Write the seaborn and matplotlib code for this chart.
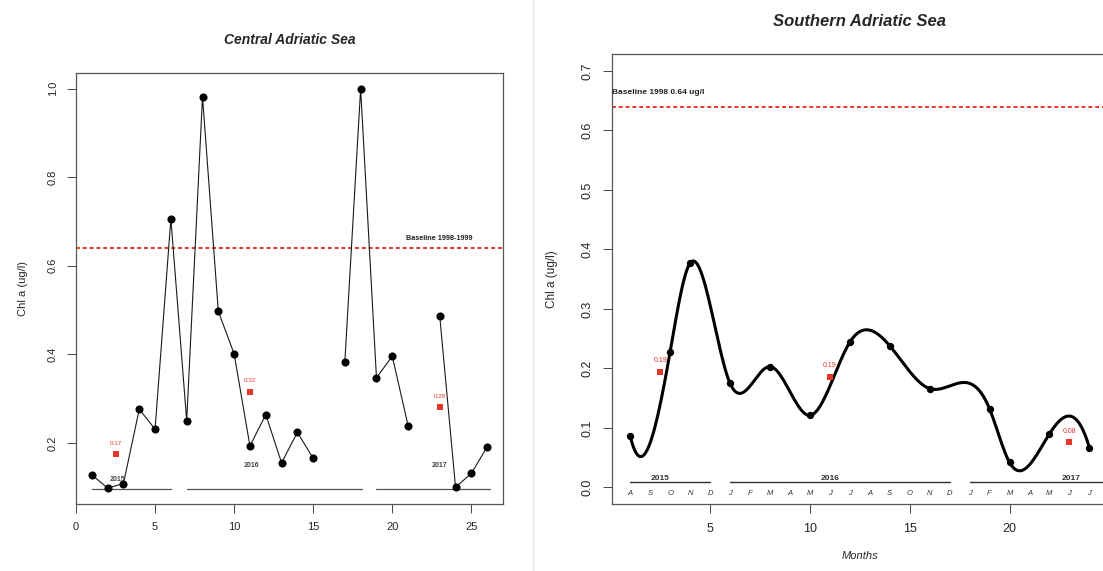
import numpy as np
import pandas as pd
import matplotlib
matplotlib.use('Agg')
import matplotlib.pyplot as plt
import seaborn as sns
from matplotlib.lines import Line2D

# ---- Central Adriatic Sea ----
central_month = [1, 2, 3, 4, 5, 6, 7, 8, 9, 10, 11, 12, 13, 14, 15,
                 17, 18, 19, 20, 21,
                 23, 24, 25, 26]
central_chl = [0.128, 0.098, 0.108, 0.276, 0.231, 0.706, 0.250, 0.982, 0.497, 0.401,
               0.193, 0.264, 0.155, 0.224, 0.165,
               0.383, 1.000, 0.347, 0.396, 0.239,
               0.487, 0.100, 0.131, 0.191]
central_run = [1] * 15 + [2] * 5 + [3] * 4
central_red_month = [2.5, 11, 23]
central_red_chl = [0.174, 0.315, 0.280]
central_red_text = ['0.17', '0.32', '0.28']
central_years = ['2015', '2016', '2017']
central_year_x = [2.6, 11.1, 23.0]
central_year_y = [0.117, 0.150, 0.148]
central_year_span = [(1, 6), (7, 18.1), (19, 26.2)]
central_baseline = 0.64
central_baseline_text = 'Baseline 1998-1999'

# ---- Southern Adriatic Sea ----
south_month = [1, 3, 4, 6, 8, 10, 12, 14, 16, 19, 20, 22, 24]
south_chl = [0.086, 0.228, 0.377, 0.175, 0.203, 0.121, 0.244, 0.238, 0.166,
             0.132, 0.042, 0.090, 0.067]
south_red_month = [2.5, 11, 23]
south_red_chl = [0.194, 0.186, 0.076]
south_red_text = ['0.19', '0.19', '0.08']
south_years = ['2015', '2016', '2017']
south_year_x = [2.5, 11.0, 23.1]
south_year_span = [(1, 5), (6, 17), (18, 24.9)]
month_letters = list('ASONDJFMAMJJASONDJFMAMJJ')
south_baseline = 0.64
south_baseline_text = 'Baseline 1998 0.64 ug/l'


def fmm_spline(x, y, n=200):
    # cubic spline with Forsythe-Malcolm-Moler end conditions (R's spline default)
    x = np.asarray(x, float)
    y = np.asarray(y, float)
    k = len(x)
    h = np.diff(x)
    d = np.diff(y) / h
    A = np.zeros((k, k))
    b = np.zeros(k)
    for i in range(1, k - 1):
        A[i, i - 1] = h[i - 1]
        A[i, i] = 2 * (h[i - 1] + h[i])
        A[i, i + 1] = h[i]
        b[i] = 6 * (d[i] - d[i - 1])

    def dd3(xx, yy):
        d1 = np.diff(yy) / np.diff(xx)
        d2 = np.diff(d1) / (xx[2:] - xx[:-2])
        return (d2[1] - d2[0]) / (xx[3] - xx[0])

    A[0, 0], A[0, 1] = -1, 1
    b[0] = 6 * h[0] * dd3(x[:4], y[:4])
    A[-1, -2], A[-1, -1] = -1, 1
    b[-1] = 6 * h[-1] * dd3(x[-4:], y[-4:])
    M = np.linalg.solve(A, b)
    xs = np.linspace(x[0], x[-1], n)
    idx = np.clip(np.searchsorted(x, xs) - 1, 0, k - 2)
    x0, x1 = x[idx], x[idx + 1]
    hh = x1 - x0
    ys = (M[idx] * (x1 - xs) ** 3 / (6 * hh) + M[idx + 1] * (xs - x0) ** 3 / (6 * hh)
          + (y[idx] / hh - M[idx] * hh / 6) * (x1 - xs)
          + (y[idx + 1] / hh - M[idx + 1] * hh / 6) * (xs - x0))
    return xs, ys


sns.set_theme(style='ticks')
plt.rcParams['font.family'] = ['Liberation Sans', 'DejaVu Sans']

fig = plt.figure(figsize=(11.03, 5.71), dpi=100)
ax1 = fig.add_axes([0.0689, 0.1173, 0.3871, 0.7554])
ax2 = fig.add_axes([0.5547, 0.1173, 0.4496, 0.7876])

fig.add_artist(Line2D([533 / 1103, 533 / 1103], [0, 1], color='#e4e4e4', lw=1.0))

# ---------- left panel ----------
cdf = pd.DataFrame({'month': central_month, 'chl': central_chl, 'run': central_run})
sns.lineplot(data=cdf, x='month', y='chl', units='run', estimator=None, sort=False,
             color='#1a1a1a', lw=0.8, ax=ax1, legend=False)
sns.scatterplot(data=cdf, x='month', y='chl', color='black', s=34, edgecolor='black',
                linewidth=0, ax=ax1, zorder=3)
red1 = pd.DataFrame({'month': central_red_month, 'chl': central_red_chl})
sns.scatterplot(data=red1, x='month', y='chl', color='#e8352a', marker='s', s=16,
                linewidth=0, ax=ax1, zorder=3)
for xm, ym, t in zip(central_red_month, central_red_chl, central_red_text):
    ax1.annotate(t, (xm, ym), xytext=(0, 8), textcoords='offset points',
                 ha='center', va='center', fontsize=4.5, color='#e8352a')
ax1.axhline(central_baseline, color='#e8352a', lw=1.4, ls=(0, (2, 1.5)), zorder=1)
ax1.text(20.85, central_baseline + 0.021, central_baseline_text, fontsize=5.2,
         fontweight='bold', ha='left', va='center', color='#222222')
for (a, b), yr, xx, yy in zip(central_year_span, central_years, central_year_x, central_year_y):
    ax1.plot([a, b], [0.095, 0.095], color='#555555', lw=0.9)
    ax1.text(xx, yy, yr, fontsize=5, fontweight='bold', color='#444444',
             ha='center', va='center')

ax1.set_xlim(0, 27)
ax1.set_ylim(0.062, 1.036)
ax1.set_xticks([0, 5, 10, 15, 20, 25])
ax1.set_yticks([0.2, 0.4, 0.6, 0.8, 1.0])
ax1.set_yticklabels(['0.2', '0.4', '0.6', '0.8', '1.0'], rotation=90, va='center')
ax1.set_xlabel('')
ax1.set_ylabel('Chl a (ug/l)', fontsize=8)
ax1.yaxis.set_label_coords(-0.113, 0.5)
ax1.text(0.5, 1.076, 'Central Adriatic Sea', transform=ax1.transAxes, ha='center',
         va='center', fontsize=10, fontweight='bold', fontstyle='italic')
ax1.tick_params(labelsize=8, length=6.5, width=0.7, pad=6.5, color='#444444')

# ---------- right panel ----------
sdf = pd.DataFrame({'month': south_month, 'chl': south_chl})
xs, ys = fmm_spline(sdf['month'].values, sdf['chl'].values, n=300)
sfit = pd.DataFrame({'month': xs, 'chl': ys})
sns.lineplot(data=sfit, x='month', y='chl', estimator=None, sort=False,
             color='black', lw=2.2, ax=ax2)
sns.scatterplot(data=sdf, x='month', y='chl', color='black', s=28, linewidth=0,
                ax=ax2, zorder=3)
red2 = pd.DataFrame({'month': south_red_month, 'chl': south_red_chl})
sns.scatterplot(data=red2, x='month', y='chl', color='#e8352a', marker='s', s=14,
                linewidth=0, ax=ax2, zorder=3)
for xm, ym, t in zip(south_red_month, south_red_chl, south_red_text):
    ax2.annotate(t, (xm, ym), xytext=(0, 8), textcoords='offset points',
                 ha='center', va='center', fontsize=5, color='#e8352a')
ax2.axhline(south_baseline, color='#e8352a', lw=1.4, ls=(0, (2, 1.5)), zorder=1)
ax2.text(0.08, south_baseline + 0.024, south_baseline_text, fontsize=6,
         fontweight='bold', ha='left', va='center', color='#222222')
for (a, b), yr, xx in zip(south_year_span, south_years, south_year_x):
    ax2.plot([a, b], [0.0085, 0.0085], color='#333333', lw=1.0)
    ax2.text(xx, 0.015, yr, fontsize=6, fontweight='bold', color='#333333',
             ha='center', va='center')
for i, m in enumerate(month_letters):
    ax2.text(i + 1, -0.010, m, fontsize=5.5, fontstyle='italic', color='#333333',
             ha='center', va='center')

ax2.set_xlim(0.08, 24.92)
ax2.set_ylim(-0.028, 0.728)
ax2.set_xticks([5, 10, 15, 20])
ax2.set_yticks(np.arange(0, 0.71, 0.1))
ax2.set_yticklabels(['0.0', '0.1', '0.2', '0.3', '0.4', '0.5', '0.6', '0.7'],
                    rotation=90, va='center')
ax2.set_xlabel('Months', fontsize=8, fontstyle='italic')
ax2.xaxis.set_label_coords(0.5, -0.105)
ax2.set_ylabel('Chl a (ug/l)', fontsize=8.5)
ax2.yaxis.set_label_coords(-0.108, 0.5)
ax2.text(0.5, 1.073, 'Southern Adriatic Sea', transform=ax2.transAxes, ha='center',
         va='center', fontsize=12, fontweight='bold', fontstyle='italic')
ax2.tick_params(labelsize=9, length=6.5, width=0.7, pad=7, color='#444444')

for ax in (ax1, ax2):
    for sp in ax.spines.values():
        sp.set_visible(True)
        sp.set_color('#555555')
        sp.set_linewidth(0.9)

fig.savefig('out.png', dpi=100)
